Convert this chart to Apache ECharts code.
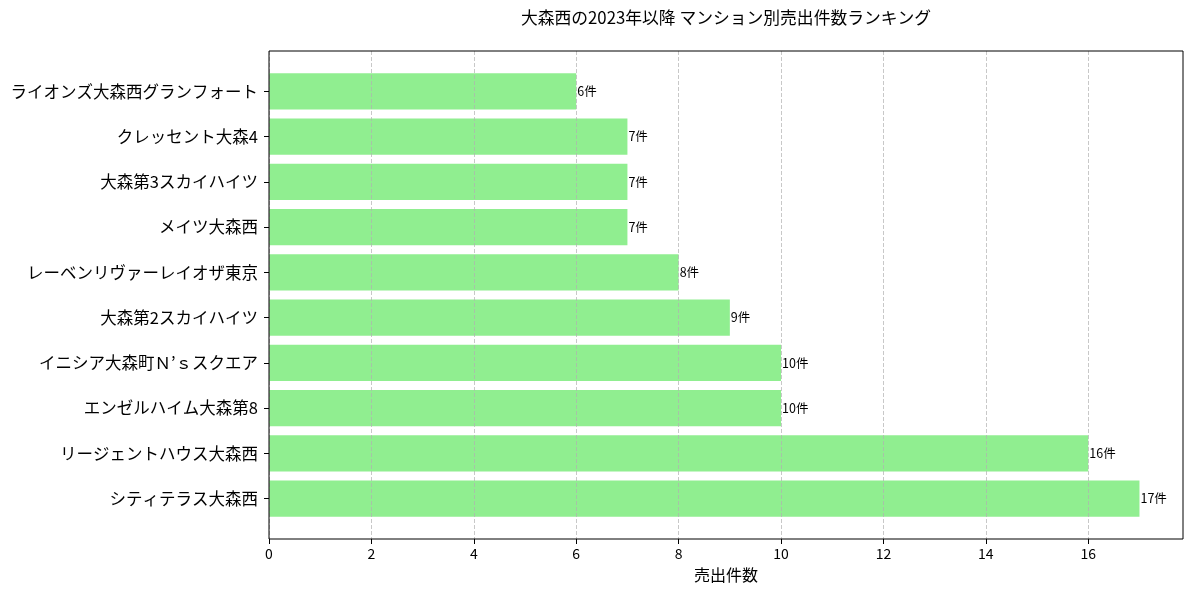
<!DOCTYPE html>
<html><head><meta charset="utf-8">
<script src="https://cdn.jsdelivr.net/npm/echarts@6/dist/echarts.min.js"></script>
<style>html,body{margin:0;padding:0;background:#fff}#c{width:1193px;height:593px}</style>
</head><body><div id="c"></div>
<script>
// bottom to top (ECharts category axis starts at bottom)
const categories = [
  'シティテラス大森西',
  'リージェントハウス大森西',
  'エンゼルハイム大森第8',
  'イニシア大森町Ｎ’ｓスクエア',
  '大森第2スカイハイツ',
  'レーベンリヴァーレイオザ東京',
  'メイツ大森西',
  '大森第3スカイハイツ',
  'クレッセント大森4',
  'ライオンズ大森西グランフォート'
];
const counts = [17, 16, 10, 10, 9, 8, 7, 7, 7, 6];
const xTicks = [0, 2, 4, 6, 8, 10, 12, 14, 16];
const xMax = 17.85;
const titleText = '大森西の2023年以降 マンション別売出件数ランキング';
const xName = '売出件数';

const FONT = '"Noto Sans CJK JP", "Noto Sans", sans-serif';
const frame = {left: 269, right: 10, top: 51, bottom: 54};
const frameH = 593 - frame.top - frame.bottom;
const unit = frameH / (categories.length - 1 + 0.8 + 2 * 0.49); // px per category unit
const inset = (0.49 - 0.1) * unit;

const chart = echarts.init(document.getElementById('c'), null, {renderer: 'canvas'});
chart.setOption({
  animation: false,
  backgroundColor: '#fff',
  textStyle: {fontFamily: FONT},
  title: {
    text: titleText,
    left: frame.left + (1193 - frame.left - frame.right) / 2 - 5,
    textAlign: 'center',
    top: 4,
    textStyle: {fontFamily: FONT, fontSize: 16.8, fontWeight: 'normal', color: '#000'}
  },
  grid: [
    {left: frame.left, right: frame.right, top: frame.top, bottom: frame.bottom,
     show: true, borderColor: '#000', borderWidth: 1, backgroundColor: 'transparent', z: 10,
     containLabel: false, outerBoundsMode: 'none'},
    {left: frame.left, right: frame.right, top: frame.top + inset, bottom: frame.bottom + inset,
     containLabel: false, outerBoundsMode: 'none'}
  ],
  xAxis: [
    {gridIndex: 0, type: 'value', min: 0, max: xMax, interval: 2, z: 5,
     name: xName, nameLocation: 'middle', nameGap: 28,
     nameTextStyle: {fontFamily: FONT, fontSize: 16, color: '#000'},
     axisLine: {show: false},
     axisTick: {show: true, length: 5, lineStyle: {color: '#000'}, customValues: xTicks},
     axisLabel: {show: true, margin: 8, fontSize: 14, color: '#000', fontFamily: FONT,
       customValues: xTicks,
       formatter: v => (xTicks.indexOf(v) >= 0 ? String(v) : '')},
     splitLine: {show: true, lineStyle: {color: 'rgba(176,176,176,0.7)', width: 1, type: [4, 2]}}
    },
    {gridIndex: 1, type: 'value', min: 0, max: xMax, show: false, splitLine: {show: false}}
  ],
  yAxis: [
    {gridIndex: 0, type: 'value', min: 0, max: 1, show: false, splitLine: {show: false}},
    {gridIndex: 1, type: 'category', data: categories,
     axisLine: {show: false},
     axisTick: {show: true, alignWithLabel: true, length: 5, lineStyle: {color: '#000'}},
     axisLabel: {margin: 11, fontSize: 16.5, color: '#000', fontFamily: FONT},
     splitLine: {show: false}}
  ],
  series: [{
    type: 'bar',
    xAxisIndex: 1, yAxisIndex: 1,
    data: counts,
    barWidth: 0.8 * unit,
    itemStyle: {color: '#90EE90'},
    z: 2,
    label: {show: true, position: 'right', distance: 1, fontSize: 12.5, color: '#000',
      fontFamily: FONT, formatter: p => p.value + '件'}
  }]
});
</script></body></html>
